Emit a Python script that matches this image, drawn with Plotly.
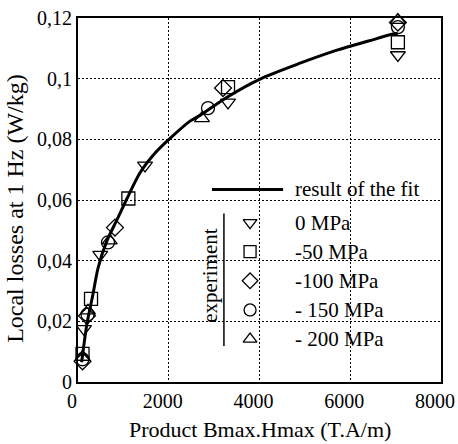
import plotly.graph_objects as go

# ---- data ----
fit_x = [80, 198, 331, 441, 639, 860, 1080, 1367, 1700, 2028, 2468, 2689, 3284, 4000, 4893, 5708, 6400, 6943, 7050]
fit_y = [0.0065, 0.0192, 0.0290, 0.0375, 0.0466, 0.0535, 0.0605, 0.0690, 0.0755, 0.0803, 0.0860, 0.0879,
         0.0939, 0.0998, 0.1051, 0.1094, 0.1124, 0.1147, 0.1150]

series_names = ["0 MPa", "-50 MPa", "-100 MPa", "- 150 MPa", "- 200 MPa"]
series_symbols = ["triangle-down-open", "square-open", "diamond-open", "circle-open", "triangle-up-open"]
x_0 = [132, 490, 1477, 3306, 7050]
y_0 = [0.0175, 0.0420, 0.0714, 0.0922, 0.1078]
x_50 = [100, 287, 1110, 3306, 7050]
y_50 = [0.0093, 0.0274, 0.0605, 0.0972, 0.1120]
x_100 = [100, 198, 815, 3196, 7050]
y_100 = [0.0068, 0.0218, 0.0509, 0.0969, 0.1185]
x_150 = [100, 210, 661, 2865, 7050]
y_150 = [0.0075, 0.0222, 0.0460, 0.0903, 0.1170]
x_200 = [100, 220, 700, 2733, 7050]
y_200 = [0.0082, 0.0235, 0.0466, 0.0869, 0.1193]
series_x = [x_0, x_50, x_100, x_150, x_200]
series_y = [y_0, y_50, y_100, y_150, y_200]

x_ticks = [0, 2000, 4000, 6000, 8000]
x_ticktext = ["0", "2000", "4000", "6000", "8000"]
y_ticks = [0, 0.02, 0.04, 0.06, 0.08, 0.1, 0.12]
y_ticktext = ["0", "0,02", "0,04", "0,06", "0,08", "0,1", "0,12"]

x_title = "Product Bmax.Hmax (T.A/m)"
y_title = "Local losses at 1 Hz (W/kg)"
fit_label = "result of the fit"
group_label = "experiment"

# legend layout (fractions of the plot area)
leg_marker_x = 0.474
leg_rows_y = [0.438, 0.358, 0.278, 0.198, 0.118]
leg_text_x = 0.592
leg_fit_y = 0.529
leg_line_x = [0.369, 0.565]

FONT = "Liberation Serif"
FS = 21
fig = go.Figure()

fig.add_trace(go.Scatter(x=fit_x, y=fit_y, mode="lines",
                         line=dict(color="black", width=3, shape="spline", smoothing=0.8),
                         showlegend=False, hoverinfo="skip"))

for name, sym, xs, ys in zip(series_names, series_symbols, series_x, series_y):
    fig.add_trace(go.Scatter(x=xs, y=ys, mode="markers", name=name,
                             marker=dict(symbol=sym, size=13, color="black", line=dict(width=1.3)),
                             cliponaxis=False, showlegend=False))

# hand-made legend on an overlay axis spanning the plot area [0,1]
for sym, ly in zip(series_symbols, leg_rows_y):
    fig.add_trace(go.Scatter(x=[leg_marker_x], y=[ly], xaxis="x2", yaxis="y2", mode="markers",
                             marker=dict(symbol=sym, size=12, color="black", line=dict(width=1.3)),
                             showlegend=False, hoverinfo="skip"))
fig.add_trace(go.Scatter(x=leg_line_x, y=[leg_fit_y, leg_fit_y], xaxis="x2", yaxis="y2", mode="lines",
                         line=dict(color="black", width=3), showlegend=False, hoverinfo="skip"))

# white legend box covering the grid
fig.add_shape(type="rect", xref="paper", yref="paper", x0=0.322, x1=0.989, y0=0.063, y1=0.595,
              fillcolor="white", line=dict(width=0), layer="between")
# vertical bar next to "experiment"
fig.add_shape(type="line", xref="paper", yref="paper", x0=0.402, x1=0.402, y0=0.099, y1=0.463,
              line=dict(color="black", width=1.5))

annots = [dict(x=leg_text_x, y=leg_fit_y, text=fit_label)]
for name, ly in zip(series_names, leg_rows_y):
    annots.append(dict(x=leg_text_x, y=ly, text=name))
for a in annots:
    fig.add_annotation(xref="paper", yref="paper", x=a["x"], y=a["y"], text=a["text"],
                       showarrow=False, xanchor="left", yanchor="middle",
                       font=dict(family=FONT, size=FS, color="black"))
fig.add_annotation(xref="paper", yref="paper", x=0.364, y=0.292, text=group_label, textangle=-90,
                   showarrow=False, xanchor="center", yanchor="middle",
                   font=dict(family=FONT, size=FS, color="black"))
# y-axis title
fig.add_annotation(xref="paper", yref="paper", x=-0.174, y=0.478, text=y_title, textangle=-90,
                   showarrow=False, xanchor="center", yanchor="middle",
                   font=dict(family=FONT, size=24, color="black"))
# x-axis title
fig.add_annotation(xref="paper", yref="paper", x=0.5, y=-0.13, text=x_title,
                   showarrow=False, xanchor="center", yanchor="middle",
                   font=dict(family=FONT, size=22, color="black"))

axis_common = dict(showline=True, linecolor="black", linewidth=2, mirror=True,
                   showgrid=True, gridcolor="black", gridwidth=1, griddash="2px,2px",
                   zeroline=False, ticks="", automargin=False,
                   tickfont=dict(family=FONT, size=20, color="black"))

fig.update_layout(
    width=458, height=444,
    margin=dict(l=78, r=17, t=18, b=62, autoexpand=False),
    paper_bgcolor="white", plot_bgcolor="white",
    showlegend=False,
    xaxis=dict(range=[0, 8000], tickvals=x_ticks, ticktext=x_ticktext, ticklabelshift=-6,
               **axis_common),
    yaxis=dict(range=[0, 0.12], tickvals=y_ticks, ticktext=y_ticktext, **axis_common),
    xaxis2=dict(range=[0, 1], overlaying="x", visible=False),
    yaxis2=dict(range=[0, 1], overlaying="y", visible=False),
)

fig.write_html("out.html")
